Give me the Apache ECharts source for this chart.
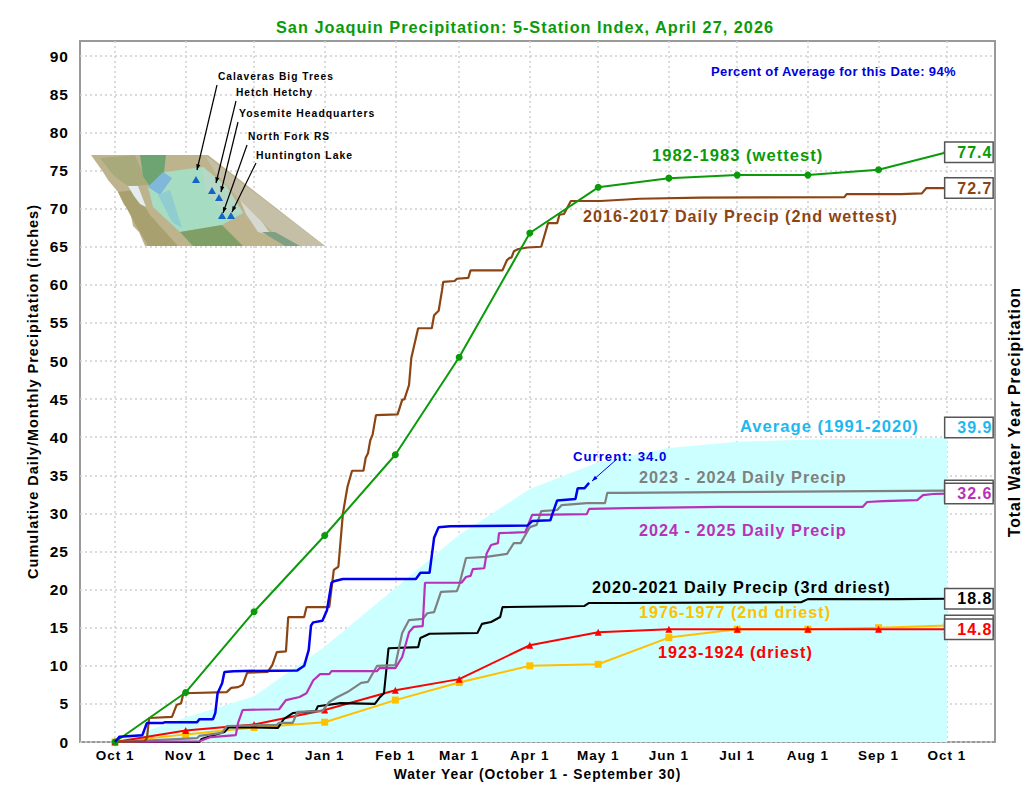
<!DOCTYPE html>
<html><head><meta charset="utf-8">
<style>html,body{margin:0;padding:0;background:#fff}#c{width:1035px;height:800px}svg text{letter-spacing:1px}</style>
<script src="https://cdn.jsdelivr.net/npm/echarts@6/dist/echarts.min.js"></script>
</head><body><div id="c"></div>
<script>
const monthDays=[0,31,61,92,123,151,182,212,243,273,304,335,365];
const monthLabels=['Oct 1','Nov 1','Dec 1','Jan 1','Feb 1','Mar 1','Apr 1','May 1','Jun 1','Jul 1','Aug 1','Sep 1','Oct 1'];
const yTicks=[0,5,10,15,20,25,30,35,40,45,50,55,60,65,70,75,80,85,90];
const wettest=[0,6.5,17.1,27.1,37.7,50.5,66.8,72.8,74,74.4,74.4,75.1,77.4];
const driest=[0,1.5,2.3,4.2,6.8,8.25,12.7,14.4,14.8,14.8,14.8,14.8,14.8];
const secondDriest=[0,1,1.9,2.6,5.5,7.8,10,10.2,13.7,14.8,14.8,15,15.3];
const average=[0,3.2,6,12.5,20.2,27.2,33.2,36.7,38.6,39.4,39.7,39.8,39.9];
const current=[[0,0],[2,.7],[12,.9],[14,2.5],[21,2.5],[22,2.6],[36,2.6],[37,3],[43,3],[44,3.8],[45,6.4],[47,7.7],[48,9.2],[52,9.3],[80,9.4],[83,10],[85,12.1],[86,15.3],[87,15.7],[91,15.9],[93,17.3],[95,20.9],[96,21.1],[100,21.4],[132,21.4],[134,22.2],[138,22.2],[140,26.8],[142,28.2],[147,28.3],[181,28.4],[183,29],[191,29.1],[192,30],[194,31.7],[202,31.9],[203,33.3],[206,33.3],[208,34]];
const wy2017=[[0,0],[13,.1],[14,.5],[15,3.15],[25,3.3],[27,4.85],[29,5.1],[30,6.4],[49,6.55],[51,7.1],[54,7.2],[56,7.5],[58,9.1],[67,9.2],[69,10.1],[71,11.8],[75,11.9],[76,16.4],[83,16.4],[84,17.7],[94,17.7],[96,22.6],[98,23],[100,30],[102,33.5],[104,35.6],[109,35.6],[110,37.3],[111,37.9],[112,39.6],[113,40.3],[114.5,42.9],[124,43],[126,44.9],[127,45],[129,46.85],[130,50.4],[133,54.3],[139,54.3],[140,56],[142,56.6],[143.5,59.3],[144,60.4],[149,60.5],[150,60.8],[155,60.9],[156,61.9],[170,61.9],[172,63.25],[173,63.5],[174,63.6],[175,64.4],[177,64.7],[181,64.9],[187,65],[190,68.1],[194,68.1],[195,69.2],[197,69.3],[200,71],[213,71],[230,71.3],[257,71.45],[320,71.5],[321,71.9],[345,71.9],[354,72],[356,72.7],[365,72.7]];
const wy2025=[[0,0],[37,.1],[42,.65],[53,.9],[54,2.5],[56,4.2],[72,4.3],[75,5.5],[81,5.9],[84,6.4],[87,8.1],[90,8.9],[94,8.9],[95,9.3],[115,9.3],[116,9.7],[123,9.7],[126,11.15],[129,14.4],[131,15.1],[135,15.2],[136,20.9],[152,20.9],[154,21.65],[156,21.8],[157,22.7],[162,22.8],[163,24.7],[165,25.85],[168,26.1],[168.5,27.4],[180,27.55],[183,29.8],[207,29.9],[208,30.6],[225,30.7],[265,30.85],[328,30.85],[330,31.5],[337,31.6],[352,31.75],[354.5,32.4],[359,32.55],[365,32.6]];
const wy2024=[[0,0],[36,.5],[37,.8],[47,1.2],[49,2.1],[71,2.25],[72,2.5],[78,2.5],[80,3.95],[91,4.05],[94,5.25],[97,5.8],[102,6.55],[108,7.75],[111,7.9],[115,10],[123,10.1],[126,14.3],[129,16],[135,16.15],[137,16.9],[140,17.05],[143,19.7],[150,19.8],[151,20.6],[154,24.15],[163,24.3],[172,24.7],[175,26.1],[178,26.1],[182,28.2],[185,28.5],[187,30.3],[194,30.45],[196,31.1],[207,31.35],[215,31.35],[216,32.7],[222,32.7],[265,32.8],[365,33]];
const wy2021=[[0,0],[37,0],[38,.4],[45,1.05],[48,1.3],[50,1.95],[71.5,1.85],[74,3],[78,3.8],[88,4.05],[89,4.7],[99,5.1],[114,5],[116,5.8],[118,6.4],[120,12.3],[133,12.45],[134,13.65],[138,14.2],[159,14.3],[161,15.5],[165,15.75],[169,16.4],[170,17.7],[206,17.85],[208,18.25],[222,18.25],[301,18.35],[304,18.75],[344,18.75],[365,18.8]];

const FONT='"Liberation Sans",Arial,sans-serif';
const zip=a=>a.map((v,i)=>[monthDays[i],v]);
const box=(c,txt,off)=>({show:true,formatter:txt,position:'right',distance:0,offset:off||[45.5,0],width:47,height:19,lineHeight:19,align:'right',verticalAlign:'middle',
  color:c,fontFamily:FONT,fontWeight:'bold',fontSize:16,backgroundColor:'#fff',borderColor:'#555',borderWidth:1.5});
const line=(name,data,color,z,w,sym,lbl)=>({type:'line',name,data,z,showSymbol:!!sym,symbol:sym||'none',symbolSize:7,smooth:false,clip:false,
  lineStyle:{color,width:w},itemStyle:{color},endLabel:lbl,emphasis:{disabled:true},labelLayout:{hideOverlap:false}});
const txt=(t,x,y,c,fs,extra)=>Object.assign({type:'text',x,y,z:50,silent:true,style:{text:t,x:0,y:0,fill:c,font:'bold '+fs+'px '+FONT,textAlign:'left',textVerticalAlign:'middle'}},extra||{});
const poly=(pts,c)=>({type:'polygon',z:20,silent:true,shape:{points:pts},style:{fill:c}});
const arrow=(x1,y1,x2,y2,c,w,h)=>{const a=Math.atan2(y2-y1,x2-x1),u=h||6;return [
  {type:'line',z:30,silent:true,shape:{x1,y1,x2,y2},style:{stroke:c,lineWidth:w}},
  {type:'polygon',z:30,silent:true,shape:{points:[[x2,y2],[x2-u*Math.cos(a-.35),y2-u*Math.sin(a-.35)],[x2-u*Math.cos(a+.35),y2-u*Math.sin(a+.35)]]},style:{fill:c}}];};
const tri=(x,y)=>poly([[x,y-4],[x-4,y+3],[x+4,y+3]],'#1464c8');

const mapParts=[
 poly([[91,155],[208,155],[325,246],[145,246],[139,232],[133,226],[130,210],[124,205],[118,192],[108,180],[103,172]],'#bdb48e'),
 poly([[100,158],[135,155],[148,185],[128,186],[114,176]],'#a9aa7c'),
 poly([[118,192],[135,190],[150,215],[168,235],[178,246],[148,246],[134,222]],'#a8a06e'),
 poly([[205,155],[325,246],[288,246],[262,222],[240,200],[215,172]],'#c4bfa6'),
 poly([[240,200],[262,222],[272,236],[258,232],[246,214]],'#d6d8d2'),
 poly([[140,155],[166,155],[164,172],[150,187],[143,176]],'#6ea372'),
 poly([[165,172],[203,167],[227,187],[243,213],[222,225],[180,232],[153,207],[148,187]],'#a6dcc2'),
 poly([[203,167],[227,187],[243,213],[225,214],[205,190]],'#b6d8c6'),
 poly([[148,187],[163,172],[172,178],[160,195]],'#7fb8da'),
 poly([[158,195],[170,190],[182,228],[172,222]],'#90cdd0'),
 poly([[180,232],[222,225],[243,246],[193,246]],'#7f9f66'),
 poly([[128,186],[138,186],[146,207],[140,204],[134,196]],'#e4ecee'),
 poly([[262,232],[275,232],[300,246],[285,246]],'#7fa082'),
 tri(196,180),tri(212,191),tri(219,198),tri(222,216),tri(231,216),
 ...arrow(217,85,197,170,'#000',1.2),
 ...arrow(236,101,216,183,'#000',1.2),
 ...arrow(238,122,221,192,'#000',1.2),
 ...arrow(247,145,223,213,'#000',1.2),
 ...arrow(256,163,232,212,'#000',1.2),
 txt('Calaveras Big Trees',218,76,'#000',10.2),
 txt('Hetch Hetchy',236,92,'#000',10.2),
 txt('Yosemite Headquarters',239,113,'#000',10.4),
 txt('North Fork RS',248,136,'#000',10.2),
 txt('Huntington Lake',256,155,'#000',10.4)
];
const notes=[
 txt('Percent of Average for this Date: 94%',711,71,'#0000dd',13),
 txt('1982-1983 (wettest)',652,155,'#0a9a0a',16.6),
 txt('2016-2017 Daily Precip (2nd wettest)',583,216,'#8b4513',16.2),
 txt('Average (1991-2020)',740,426,'#1cb8f0',16.6),
 txt('Current: 34.0',573,456,'#0000ee',13.2),
 ...arrow(617,459,592,481,'#0000ee',1,6),
 txt('2023 - 2024 Daily Precip',639,477,'#808080',16.2),
 txt('2024 - 2025 Daily Precip',639,530,'#b832b8',16.2),
 txt('2020-2021 Daily Precip (3rd driest)',592,587,'#000',16.2),
 txt('1976-1977 (2nd driest)',639,612,'#ffc000',16.2),
 txt('1923-1924 (driest)',658,652,'#ff0000',16.2),
 {type:'text',x:1014,y:412,z:50,silent:true,rotation:Math.PI/2,style:{text:'Total Water Year Precipitation',x:0,y:0,fill:'#000',font:'bold 15.7px '+FONT,textAlign:'center',textVerticalAlign:'middle'}}
];

const avgSeries=line('Average (1991-2020)',zip(average),'#ccffff',1,0,null,box('#1cb8f0','39.9',[45.5,-10.5]));
avgSeries.areaStyle={color:'#ccffff',opacity:1};

const chart=echarts.init(document.getElementById('c'),null,{renderer:'svg',width:1035,height:800});
chart.setOption({
 animation:false,backgroundColor:'#fff',
 title:{text:'San Joaquin Precipitation: 5-Station Index, April 27, 2026',left:520,top:14,textAlign:'center',textStyle:{color:'#0a9a0a',fontFamily:FONT,fontWeight:'bold',fontSize:16.3}},
 grid:{show:true,left:80,right:40,top:41,bottom:58,borderColor:'#999',borderWidth:2,backgroundColor:'transparent'},
 xAxis:{type:'value',min:-15.36,max:386.1,
  axisLine:{show:false},axisTick:{show:false,customValues:monthDays},
  splitLine:{show:true,lineStyle:{color:'#cfcfcf',type:[2,3],width:1.5}},
  axisLabel:{customValues:monthDays,formatter:v=>monthLabels[monthDays.indexOf(v)]||'',margin:6,color:'#000',fontFamily:FONT,fontWeight:'bold',fontSize:13.5},
  name:'Water Year (October 1 - September 30)',nameLocation:'middle',nameGap:25,nameTextStyle:{color:'#000',fontFamily:FONT,fontWeight:'bold',fontSize:13.8}},
 yAxis:{type:'value',min:0,max:92,
  axisLine:{show:false},axisTick:{show:false,customValues:yTicks},
  splitLine:{show:true,lineStyle:{color:'#cfcfcf',type:[2,3],width:1.5}},
  axisLabel:{customValues:yTicks,margin:11,color:'#000',fontFamily:FONT,fontWeight:'bold',fontSize:15.5},
  name:'Cumulative Daily/Monthly Precipitation (inches)',nameLocation:'middle',nameRotate:90,nameGap:37,nameTextStyle:{color:'#000',fontFamily:FONT,fontWeight:'bold',fontSize:14.5}},
 series:[
  avgSeries,
  line('1976-1977 (2nd driest)',zip(secondDriest),'#ffc000',2,2,'rect',box('#ffc000',' ')),
  line('1923-1924 (driest)',zip(driest),'#ff0000',3,2,'triangle',box('#ff0000','14.8')),
  line('2020-2021 Daily Precip (3rd driest)',wy2021,'#000000',4,2.1,null,box('#000','18.8')),
  line('2023 - 2024 Daily Precip',wy2024,'#808080',5,2.2,null,box('#808080',' ')),
  line('2024 - 2025 Daily Precip',wy2025,'#b832b8',6,2.2,null,box('#b832b8','32.6')),
  line('2016-2017 Daily Precip (2nd wettest)',wy2017,'#8b4513',7,2.2,null,box('#8b4513','72.7')),
  line('1982-1983 (wettest)',zip(wettest),'#0a9a0a',8,2,'circle',box('#0a9a0a','77.4')),
  line('Current',current,'#0000ee',9,2.5,null,undefined)
 ],
 graphic:{elements:[...mapParts,...notes]}
});
document.querySelectorAll('svg text').forEach(t=>{if(t.textContent.startsWith('Percent of Average'))t.style.letterSpacing='0.38px';});
</script></body></html>
